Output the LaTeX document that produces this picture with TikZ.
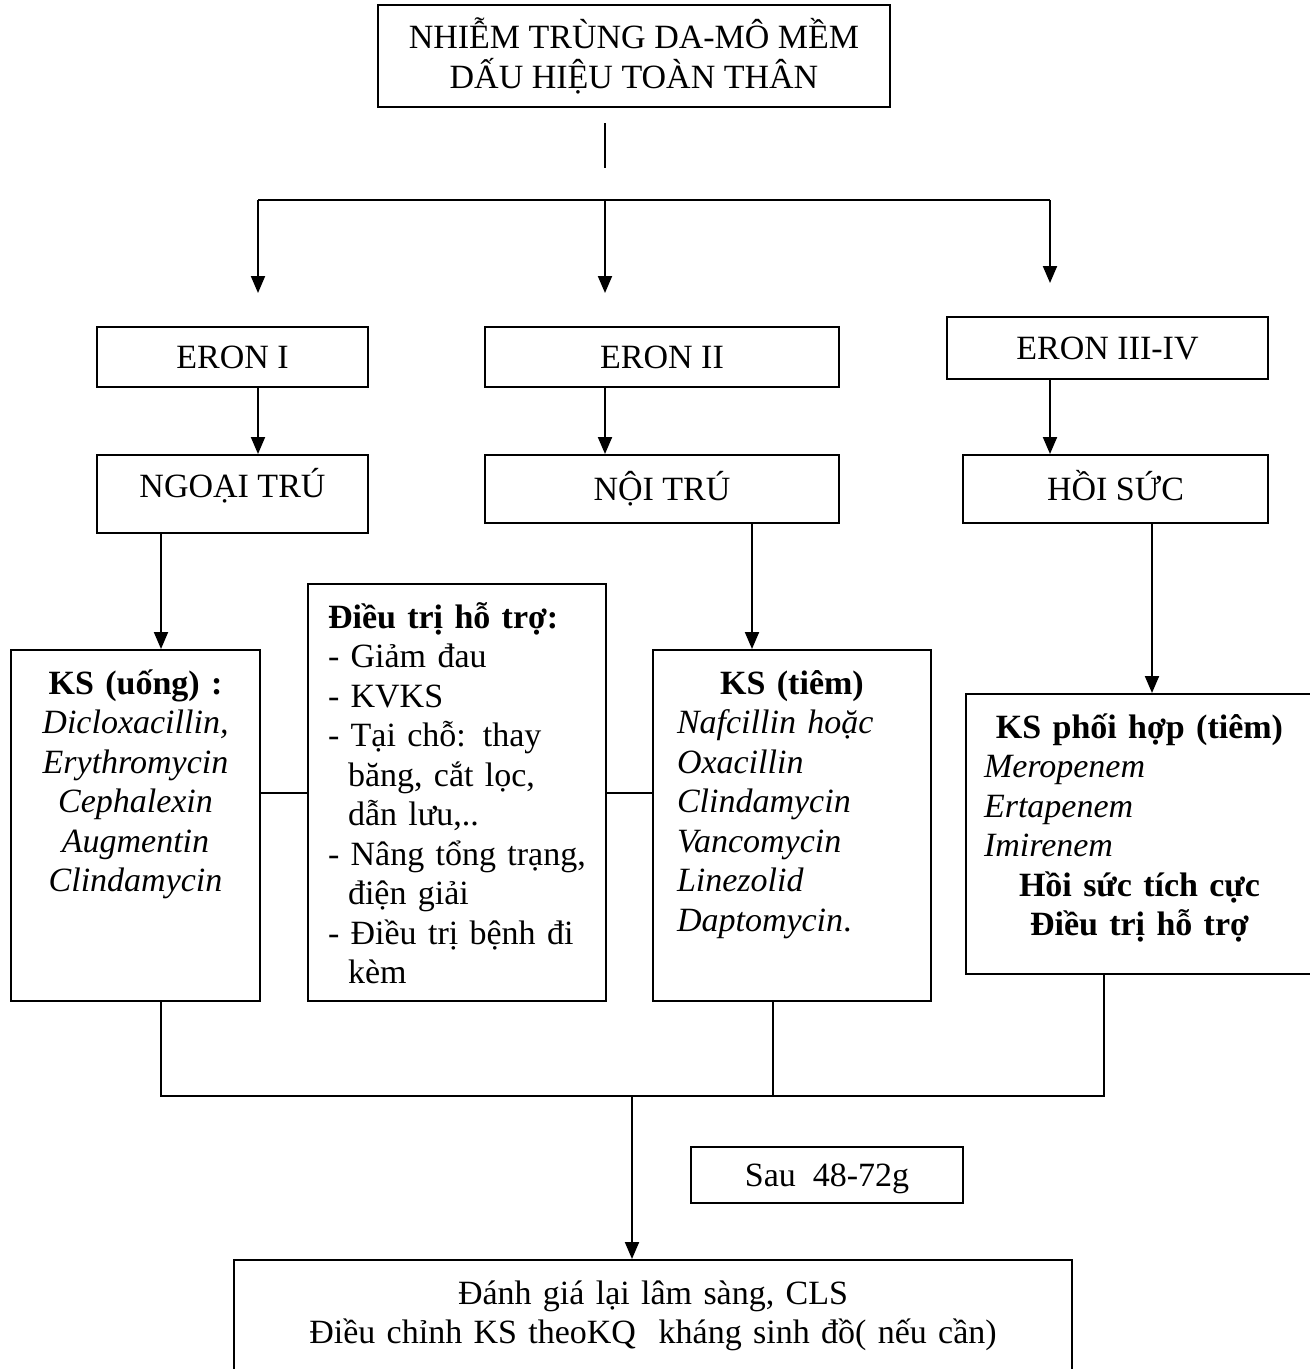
\documentclass[tikz,border=0pt]{standalone}
\usepackage{fontspec}
\setmainfont{Liberation Serif}
\usepackage{tikz}
\usetikzlibrary{arrows.meta}

\begin{document}
\begin{tikzpicture}[
    x=1pt, y=-1pt,
    font=\fontsize{34}{39.5}\selectfont,
    headbox/.style={rectangle, draw, line width=2pt, align=center},
    stage/.style={rectangle, draw, line width=2pt, inner sep=0pt, text height=23pt, text depth=0pt},
    drugbox/.style={rectangle, draw, line width=2pt, anchor=north west, inner ysep=0pt, text height=44pt},
    arrow/.style={-{Triangle[length=17pt, width=14pt]}, line width=2pt},
    link/.style={line width=2pt}
]
\useasboundingbox (0,0) rectangle (1310,1369);
\clip (0,0) rectangle (1310,1369);

% Head of the chart
\node[headbox, minimum width=512pt, minimum height=102pt] (infection) at (634,56) {NHIỄM TRÙNG DA-MÔ MỀM\\DẤU HIỆU TOÀN THÂN};

% Severity (Eron) and care setting
\node[stage, minimum width=271pt, minimum height=60pt] (eron1) at (232.5,357) {ERON I};
\node[stage, minimum width=354pt, minimum height=60pt] (eron2) at (662,357) {ERON II};
\node[stage, minimum width=321pt, minimum height=62pt] (eron3) at (1107.5,348) {ERON III-IV};

\node[stage, minimum width=271pt, minimum height=78pt, text depth=16pt] (outpat) at (232.5,494) {NGOẠI TRÚ};
\node[stage, minimum width=354pt, minimum height=68pt] (inpat) at (662,489) {NỘI TRÚ};
\node[stage, minimum width=305pt, minimum height=68pt] (icu) at (1115.5,489) {HỒI SỨC};

% Treatment boxes
\node[drugbox, text width=239pt, inner xsep=5pt, text depth=307pt, align=center] (oral) at (10,649)
    {\textbf{KS (uống) :}\\ \textit{Dicloxacillin,}\\ \textit{Erythromycin}\\ \textit{Cephalexin}\\ \textit{Augmentin}\\ \textit{Clindamycin}};
\node[drugbox, text width=258pt, inner xsep=20pt, text depth=373pt, align=left] (support) at (307,583)
    {\textbf{Điều trị hỗ trợ:}\\- Giảm đau\\- KVKS\\- Tại chỗ: thay\\\hspace*{20pt}băng, cắt lọc,\\\hspace*{20pt}dẫn lưu,..\\- Nâng tổng trạng,\\\hspace*{20pt}điện giải\\- Điều trị bệnh đi\\\hspace*{20pt}kèm};
\node[drugbox, text width=230pt, inner xsep=24pt, text depth=307pt, align=left] (inject) at (652,649)
    {\makebox[\linewidth]{\textbf{KS (tiêm)}}\\ \textit{Nafcillin hoặc}\\ \textit{Oxacillin}\\ \textit{Clindamycin}\\ \textit{Vancomycin}\\ \textit{Linezolid}\\ \textit{Daptomycin}.};
\node[drugbox, text width=311pt, inner xsep=18pt, text depth=236pt, align=left] (combo) at (965,693)
    {\makebox[\linewidth]{\textbf{KS phối hợp (tiêm)}}\\ \textit{Meropenem}\\ \textit{Ertapenem}\\ \textit{Imirenem}\\ \makebox[\linewidth]{\textbf{Hồi sức tích cực}}\\ \makebox[\linewidth]{\textbf{Điều trị hỗ trợ}}};

% Re-assessment
\node[stage, minimum width=272pt, minimum height=56pt] (delay) at (827,1175) {Sau\ \ 48-72g};
\node[drugbox, text width=838pt, inner xsep=0pt, text depth=100pt, align=center] (review) at (233,1259)
    {Đánh giá lại lâm sàng, CLS\\Điều chỉnh KS theoKQ\ \ kháng sinh đồ( nếu cần)};

% Points for the connectors
\coordinate (stemtop) at (605,123);
\coordinate (stembot) at (605,168);
\coordinate (forkL) at (258,200);
\coordinate (forkM) at (605,200);
\coordinate (forkR) at (1050,200);
\coordinate (tipL) at (258,293);
\coordinate (tipM) at (605,293);
\coordinate (tipR) at (1050,283);
\coordinate (oralIn) at (161,649);
\coordinate (injectIn) at (752,649);
\coordinate (comboIn) at (1152,693);
\coordinate (jOral) at (161,1096);
\coordinate (jInject) at (773,1096);
\coordinate (jCombo) at (1104,1096);
\coordinate (jReview) at (632,1096);

% Connections
\draw[link] (stemtop) -- (stembot);
\draw[link, line width=2.5pt] (forkL) -- (forkR);
\draw[arrow] (forkL) -- (tipL);
\draw[arrow] (forkM) -- (tipM);
\draw[arrow] (forkR) -- (tipR);

\draw[arrow] (eron1.south -| forkL) -- (outpat.north -| forkL);
\draw[arrow] (eron2.south -| forkM) -- (inpat.north -| forkM);
\draw[arrow] (eron3.south -| forkR) -- (icu.north -| forkR);

\draw[arrow] (outpat.south -| oralIn) -- (oralIn);
\draw[arrow] (inpat.south -| injectIn) -- (injectIn);
\draw[arrow] (icu.south -| comboIn) -- (comboIn);

\draw[link] (support.west) -- (support.west -| oral.east);
\draw[link] (support.east) -- (support.east -| inject.west);

\draw[link] (oral.south -| jOral) -- (jOral) -- (jCombo) -- (combo.south -| jCombo);
\draw[link] (inject.south -| jInject) -- (jInject);
\draw[arrow] (jReview) -- (review.north -| jReview);

\end{tikzpicture}
\end{document}
